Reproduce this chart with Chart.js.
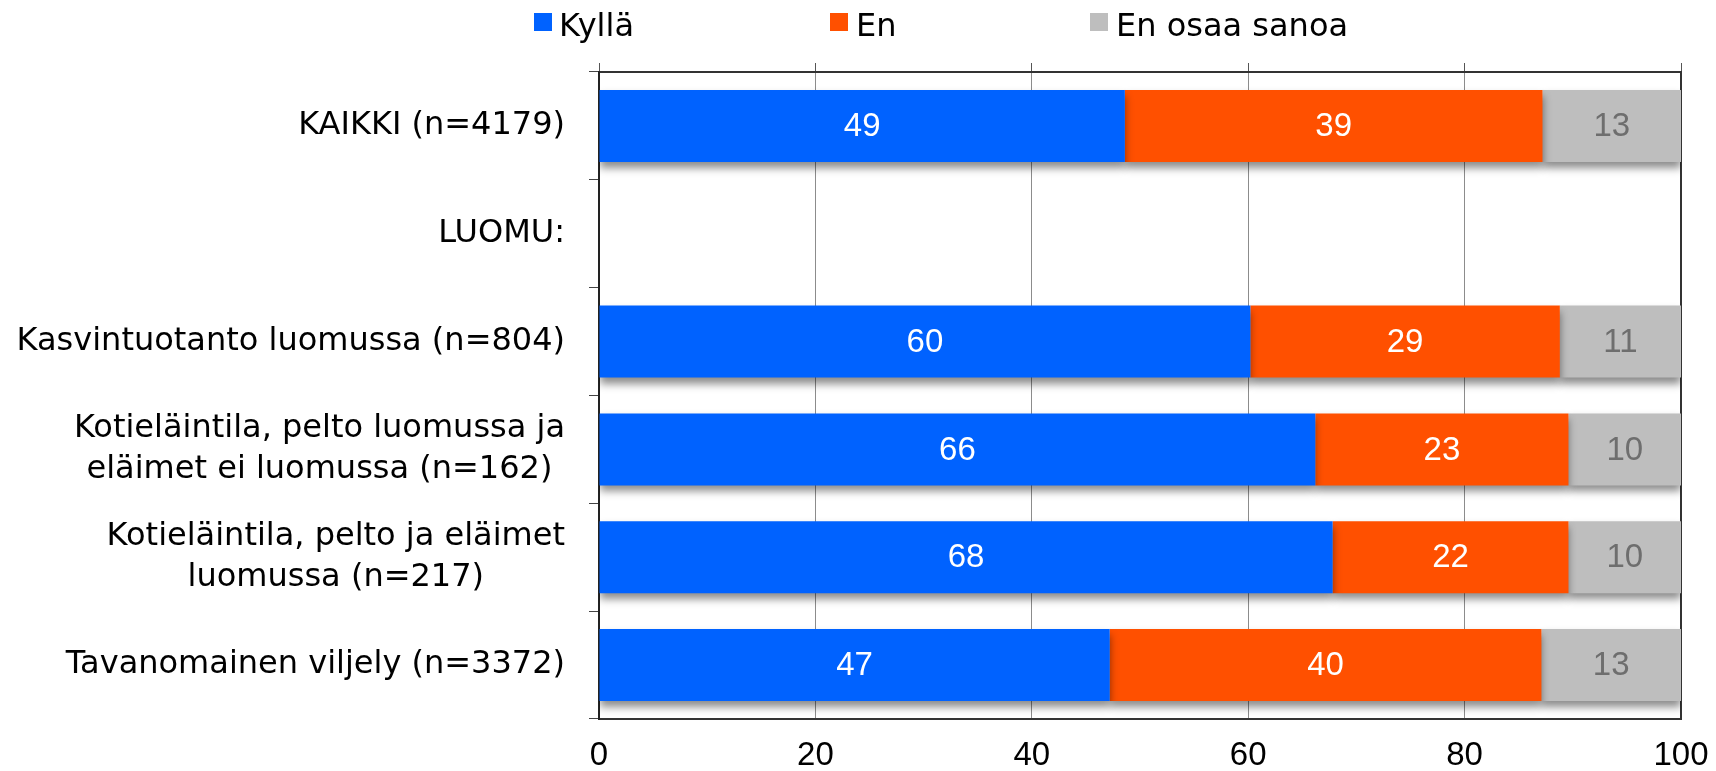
<!DOCTYPE html>
<html>
<head>
<meta charset="utf-8">
<script src="https://cdn.jsdelivr.net/npm/chart.js@4/dist/chart.umd.min.js"></script>
<style>
  html, body { margin: 0; padding: 0; background: #fff; }
  #wrap { position: relative; width: 1716px; height: 771px; }
  #c { position: absolute; left: 0; top: 0; }
  .lg-box { position: absolute; width: 18px; height: 18px; top: 13px; }
  .lg-txt { position: absolute; top: 6px; line-height: 32px; font: 32px "DejaVu Sans"; color: #000; white-space: nowrap; }
</style>
</head>
<body>
<div id="wrap">
  <canvas id="c" width="1716" height="771"></canvas>
  <div id="legend"></div>
</div>
<script>
// ---- data ----
const categories = [
  'KAIKKI (n=4179)',
  'LUOMU:',
  'Kasvintuotanto luomussa (n=804)',
  ['Kotieläintila, pelto luomussa ja', 'eläimet ei luomussa (n=162)'],
  ['Kotieläintila, pelto ja eläimet', 'luomussa (n=217)'],
  'Tavanomainen viljely (n=3372)'
];
const seriesNames = ['Kyllä', 'En', 'En osaa sanoa'];
const kylla = [48.6, null, 60.2, 66.2, 67.8, 47.2];
const en    = [38.6, null, 28.6, 23.4, 21.8, 39.9];
const eos   = [12.8, null, 11.2, 10.4, 10.4, 12.9];
const xTicks = [0, 20, 40, 60, 80, 100];

// ---- styles ----
const colors = ['#0062FF', '#FF5000', '#BEBEBE'];
const labelColors = ['#FFFFFF', '#FFFFFF', '#6E6E6E'];

// HTML legend
const legendPos = [{box: 534, txt: 559}, {box: 830, txt: 856}, {box: 1090, txt: 1116}];
const lg = document.getElementById('legend');
seriesNames.forEach((n, i) => {
  const b = document.createElement('div');
  b.className = 'lg-box'; b.style.left = legendPos[i].box + 'px'; b.style.background = colors[i];
  const t = document.createElement('div');
  t.className = 'lg-txt'; t.style.left = legendPos[i].txt + 'px'; t.textContent = n;
  lg.appendChild(b); lg.appendChild(t);
});

const custom = {
  id: 'custom',
  beforeDatasetsDraw(chart) {
    const c = chart.ctx;
    c.save();
    c.shadowColor = 'rgba(0,0,0,0.45)';
    c.shadowBlur = 8;
    c.shadowOffsetY = 6;
  },
  afterDatasetsDraw(chart) {
    const c = chart.ctx;
    c.restore();
    c.save();
    c.font = '33px "Liberation Sans"';
    c.textAlign = 'center';
    c.textBaseline = 'middle';
    chart.data.datasets.forEach((ds, di) => {
      const meta = chart.getDatasetMeta(di);
      meta.data.forEach((el, i) => {
        const v = ds.data[i];
        if (v == null) return;
        const p = el.getCenterPoint();
        c.fillStyle = labelColors[di];
        c.fillText(String(Math.round(v)), p.x, p.y + 1);
      });
    });
    c.restore();
  },
  afterDraw(chart) {
    const c = chart.ctx;
    const ys = chart.scales.y;
    c.save();
    c.font = '32px "DejaVu Sans"';
    c.fillStyle = '#000';
    c.textBaseline = 'middle';
    c.textAlign = 'center';
    const right = ys.right - 10 - 24;
    categories.forEach((lab, i) => {
      const lines = Array.isArray(lab) ? lab : [lab];
      const w = Math.max(...lines.map(l => c.measureText(l).width));
      const cx = right - w / 2;
      const y0 = ys.getPixelForValue(i);
      lines.forEach((l, j) => {
        c.fillText(l, cx, y0 + (j - (lines.length - 1) / 2) * 40.5);
      });
    });
    c.restore();
  }
};

const mk = (label, data, i) => ({
  label, data,
  backgroundColor: colors[i],
  borderWidth: 0,
  barPercentage: 0.668,
  categoryPercentage: 1.0
});

new Chart(document.getElementById('c'), {
  type: 'bar',
  data: {
    labels: categories,
    datasets: [mk(seriesNames[0], kylla, 0), mk(seriesNames[1], en, 1), mk(seriesNames[2], eos, 2)]
  },
  options: {
    indexAxis: 'y',
    responsive: false,
    animation: false,
    devicePixelRatio: 1,
    layout: { padding: { top: 63, right: 35, left: 0, bottom: 0 } },
    plugins: { legend: { display: false }, tooltip: { enabled: false } },
    scales: {
      x: {
        stacked: true,
        min: 0, max: 100,
        afterBuildTicks: (s) => { s.ticks = xTicks.map(v => ({ value: v })); },
        ticks: { font: { family: 'Liberation Sans', size: 33 }, color: '#000', padding: 0 },
        grid: {
          drawTicks: true,
          tickLength: 17,
          tickColor: 'rgba(0,0,0,0)',
          color: (ctx) => (ctx.tick && ctx.tick.value === 100) ? '#333' : '#8C8C8C',
          lineWidth: (ctx) => (ctx.tick && ctx.tick.value === 100) ? 2 : 1
        },
        border: { color: '#333', width: 2 },
        afterFit: (s) => { s.height = 52; }
      },
      x2: {
        type: 'linear',
        position: 'top',
        min: 0, max: 100,
        afterBuildTicks: (s) => { s.ticks = xTicks.map(v => ({ value: v })); },
        ticks: { display: false },
        grid: { drawOnChartArea: false, drawTicks: true, tickLength: 9, color: '#555' },
        border: { color: '#333', width: 2 }
      },
      y: {
        stacked: true,
        offset: true,
        ticks: { display: false },
        grid: { drawOnChartArea: false, drawTicks: true, tickLength: 10, color: '#444', offset: true },
        border: { color: '#222', width: 2 },
        afterFit: (s) => { s.width = 599; }
      }
    }
  },
  plugins: [custom]
});
</script>
</body>
</html>
